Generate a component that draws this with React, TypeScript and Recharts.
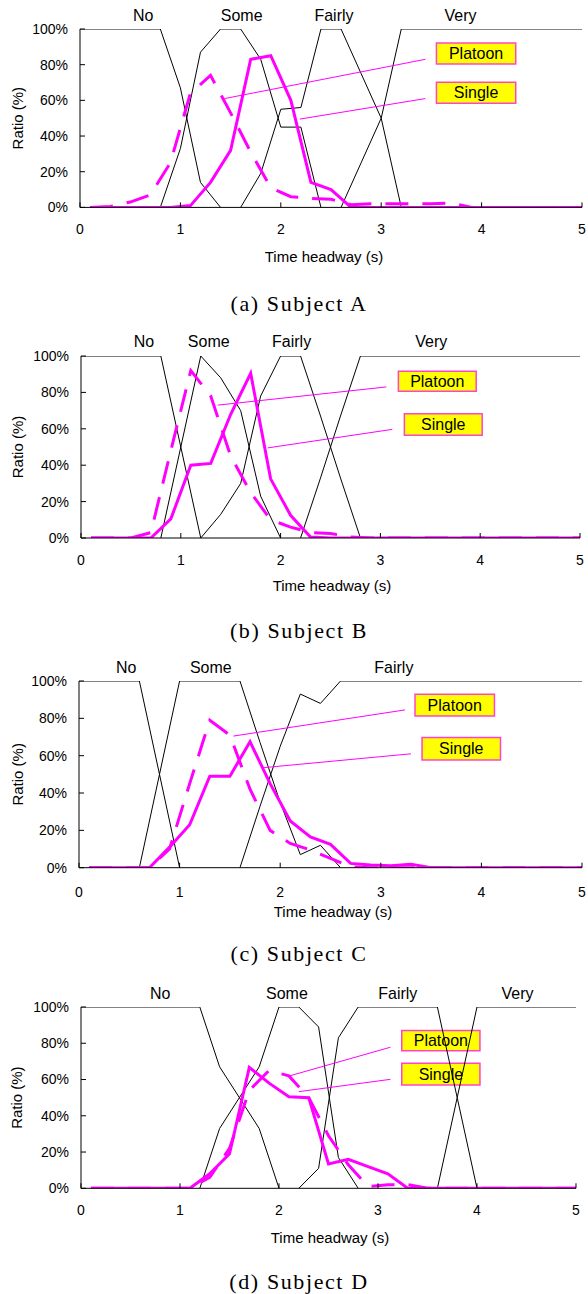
import React from 'react';
import { LineChart, Line, XAxis, YAxis, ReferenceArea, ReferenceLine, Label } from 'recharts';

const SANS = "'Liberation Sans', Arial, Helvetica, sans-serif";
const SERIF = "'Liberation Serif', 'Times New Roman', Times, serif";
const MAGENTA = '#ff00ff';
const BOX_BORDER = '#ff44cc';
const BOX_FILL = '#ffff00';

const X_TICKS = [0, 1, 2, 3, 4, 5];
const Y_TICKS = [0, 20, 40, 60, 80, 100];
const MAG_X = [0.1, 0.3, 0.5, 0.7, 0.9, 1.1, 1.3, 1.5, 1.7, 1.9, 2.1, 2.3, 2.5, 2.7, 2.9, 3.1, 3.3, 3.5, 3.7, 3.9, 4.1, 4.3, 4.5, 4.7, 4.9, 5.0];

// ---------- Subject A ----------
const A_CATS = ['No', 'Some', 'Fairly', 'Very'];
const A_CAT_X = [0.63, 1.61, 2.53, 3.79];
const A_NO_X = [0, 0.8, 1.0, 1.2, 1.4];
const A_NO_Y = [100, 100, 67, 14, 0];
const A_SOME_X = [0.8, 1.0, 1.2, 1.4, 1.6, 1.8, 2.0, 2.2, 2.4];
const A_SOME_Y = [0, 33, 87, 100, 100, 83, 45, 45, 0];
const A_FAIRLY_X = [1.6, 1.8, 2.0, 2.2, 2.4, 2.6, 2.8, 3.0, 3.2];
const A_FAIRLY_Y = [0, 19, 55, 56, 100, 100, 75, 50, 0];
const A_VERY_X = [2.6, 2.8, 3.0, 3.2, 5.0];
const A_VERY_Y = [0, 25, 50, 100, 100];
const A_SINGLE = [0, 0, 0, 0, 0, 1, 14, 32, 83, 85, 60, 14, 10, 0, 0, 0, 0, 0, 0, 0, 0, 0, 0, 0, 0, 0];
const A_PLATOON = [0, 0.5, 3, 7, 25, 64, 74, 53, 31, 11, 6, 5, 4.5, 1.5, 2, 2, 2, 2, 2.5, 0, 0, 0, 0, 0, 0, 0];
const A_PBOX = [3.55, 4.34, 80.4, 92.2];
const A_SBOX = [3.55, 4.34, 58.4, 70.2];
const A_PLEAD = [3.44, 83, 1.44, 61];
const A_SLEAD = [3.44, 61, 2.19, 49.5];

// ---------- Subject B ----------
const B_CATS = ['No', 'Some', 'Fairly', 'Very'];
const B_CAT_X = [0.63, 1.28, 2.11, 3.51];
const B_NO_X = [0, 0.8, 1.0, 1.2];
const B_NO_Y = [100, 100, 50, 0];
const B_SOME_X = [0.8, 1.0, 1.2, 1.4, 1.6, 1.8, 2.0];
const B_SOME_Y = [0, 50, 100, 88, 70, 23, 0];
const B_FAIRLY_X = [1.2, 1.4, 1.6, 1.8, 2.0, 2.2, 2.4, 2.6, 2.8];
const B_FAIRLY_Y = [0, 13, 30, 78, 100, 100, 67, 33, 0];
const B_VERY_X = [2.2, 2.4, 2.6, 2.8, 5.0];
const B_VERY_Y = [0, 33, 67, 100, 100];
const B_SINGLE = [0, 0, 0, 0, 10.5, 40, 41, 68, 90.5, 32.5, 12.5, 0.5, 0, 0, 0, 0, 0, 0, 0, 0, 0, 0, 0, 0, 0, 0];
const B_PLATOON = [0, 0, 0, 3, 48, 92, 78, 45, 25, 10, 6, 3, 2.5, 0.5, 0, 0, 0, 0, 0, 0, 0, 0, 0, 0, 0, 0];
const B_PBOX = [3.18, 3.96, 80.6, 91.6];
const B_SBOX = [3.24, 4.02, 56.4, 68.3];
const B_PLEAD = [3.06, 83, 1.37, 73];
const B_SLEAD = [3.12, 59.7, 1.87, 49.5];

// ---------- Subject C ----------
const C_CATS = ['No', 'Some', 'Fairly'];
const C_CAT_X = [0.47, 1.31, 3.13];
const C_NO_X = [0, 0.6, 0.8, 1.0];
const C_NO_Y = [100, 100, 50, 0];
const C_SOME_X = [0.6, 0.8, 1.0, 1.6, 1.8, 2.0, 2.2, 2.4, 2.6];
const C_SOME_Y = [0, 50, 100, 100, 67, 35, 7, 12, 0];
const C_FAIRLY_X = [1.6, 1.8, 2.0, 2.2, 2.4, 2.6, 5.0];
const C_FAIRLY_Y = [0, 33, 65, 93, 88, 100, 100];
const C_SINGLE = [0, 0, 0, 0, 11, 23, 49, 49, 67.5, 45, 25, 16.5, 12.5, 2.3, 1.5, 1, 1.8, 0, 0, 0, 0, 0, 0, 0, 0, 0];
const C_PLATOON = [0, 0, 0, 0, 10, 45, 79, 71, 42, 20, 13, 9.5, 5, 0.5, 0, 0, 0, 0, 0, 0, 0, 0, 0, 0, 0, 0];
const C_PBOX = [3.34, 4.13, 81.3, 92.9];
const C_SBOX = [3.41, 4.19, 57.7, 69.8];
const C_PLEAD = [3.24, 84.5, 1.535, 70.5];
const C_SLEAD = [3.3, 61, 1.84, 53.6];

// ---------- Subject D ----------
const D_CATS = ['No', 'Some', 'Fairly', 'Very'];
const D_CAT_X = [0.8, 2.08, 3.2, 4.41];
const D_NO_X = [0, 1.2, 1.4, 1.6, 1.8, 2.0];
const D_NO_Y = [100, 100, 67, 50, 33, 0];
const D_SOME_X = [1.2, 1.4, 1.6, 1.8, 2.0, 2.2, 2.4, 2.6, 2.8];
const D_SOME_Y = [0, 33, 50, 67, 100, 100, 89, 17, 0];
const D_FAIRLY_X = [2.2, 2.4, 2.6, 2.8, 3.6, 3.8, 4.0];
const D_FAIRLY_Y = [0, 11, 83, 100, 100, 50, 0];
const D_VERY_X = [3.6, 3.8, 4.0, 5.0];
const D_VERY_Y = [0, 50, 100, 100];
const D_SINGLE = [0, 0, 0, 0, 0, 0, 8, 19, 66.7, 58, 50.5, 50, 13.4, 16, 12, 8, 0, 0, 0, 0, 0, 0, 0, 0, 0, 0];
const D_PLATOON = [0, 0, 0, 0, 0, 0, 6, 22, 54, 65, 62, 50, 29, 13, 1, 2, 2, 0, 0, 0, 0, 0, 0, 0, 0, 0];
const D_PBOX = [3.24, 4.03, 75.9, 87];
const D_SBOX = [3.24, 4.03, 57, 69];
const D_PLEAD = [3.125, 77.8, 2.1, 61.9];
const D_SLEAD = [3.125, 60.1, 2.2, 53.3];

type Pt = { x: number; y: number | null };
const pts = (xs: number[], ys: (number | null)[]): Pt[] => xs.map((x, i) => ({ x, y: ys[i] }));

interface PanelProps {
  top: number;
  plotH: number;
  left: number;
  right: number;
  cats: string[];
  catX: number[];
  catGap: number;
  tickGap: number;
  titleX: number;
  titleDy: number;
  members: Pt[][];
  single: Pt[];
  platoon: Pt[];
  pBox: number[];
  sBox: number[];
  pLead: number[];
  sLead: number[];
}

const TOP_H = 29;
const BOTTOM_H = 72;

function Panel(p: PanelProps) {
  const H = TOP_H + p.plotH + BOTTOM_H;
  const W = 588;
  return (
    <div style={{ position: 'absolute', left: 0, top: p.top - TOP_H, width: W, height: H }}>
      <LineChart width={W} height={H} margin={{ top: TOP_H, right: W - p.right, bottom: 0, left: 0 }}>
        <XAxis
          xAxisId="main"
          dataKey="x"
          type="number"
          domain={[0, 5]}
          allowDataOverflow
          ticks={X_TICKS}
          interval={0}
          height={BOTTOM_H}
          tickSize={-5}
          tickMargin={p.tickGap}
          axisLine={{ stroke: '#000', strokeWidth: 1 }}
          tickLine={{ stroke: '#000', strokeWidth: 1 }}
          tick={{ fill: '#000', fontSize: 14, fontFamily: SANS }}
          label={
            <Label
              content={(lp: any) => {
                const vb = lp.viewBox || {};
                return (
                  <text x={p.titleX} y={(vb.y ?? 0) + p.titleDy} textAnchor="middle" fill="#000" fontSize={15} fontFamily={SANS}>
                    Time headway (s)
                  </text>
                );
              }}
            />
          }
        />
        <YAxis
          yAxisId="main"
          type="number"
          domain={[0, 100]}
          allowDataOverflow
          ticks={Y_TICKS}
          interval={0}
          width={p.left}
          tickSize={-5}
          tickMargin={17}
          tickFormatter={(v: number) => `${v}%`}
          axisLine={{ stroke: '#000', strokeWidth: 1 }}
          tickLine={{ stroke: '#000', strokeWidth: 1 }}
          tick={{ fill: '#000', fontSize: 14, fontFamily: SANS }}
          label={
            <Label
              content={(lp: any) => {
                const vb = lp.viewBox || {};
                const cy = (vb.y ?? 0) + (vb.height ?? 0) / 2;
                return (
                  <text x={17} y={cy} transform={`rotate(-90, 17, ${cy})`} textAnchor="middle" dominantBaseline="central" fill="#000" fontSize={15} fontFamily={SANS}>
                    Ratio (%)
                  </text>
                );
              }}
            />
          }
        />
        {p.catX.map((cx, i) => (
          <ReferenceLine key={'c' + i} xAxisId="main" yAxisId="main" x={cx} stroke="none" strokeOpacity={0} ifOverflow="visible"
            label={{ value: p.cats[i], position: 'top', offset: p.catGap, fill: '#000', fontSize: 16, fontFamily: SANS }} />
        ))}
        <ReferenceArea xAxisId="main" yAxisId="main" x1={p.pBox[0]} x2={p.pBox[1]} y1={p.pBox[2]} y2={p.pBox[3]} fill={BOX_FILL} fillOpacity={1} stroke={BOX_BORDER} strokeWidth={1.5} ifOverflow="visible"
          label={{ value: 'Platoon', position: 'center', fill: '#000', fontSize: 16, fontFamily: SANS }} />
        <ReferenceArea xAxisId="main" yAxisId="main" x1={p.sBox[0]} x2={p.sBox[1]} y1={p.sBox[2]} y2={p.sBox[3]} fill={BOX_FILL} fillOpacity={1} stroke={BOX_BORDER} strokeWidth={1.5} ifOverflow="visible"
          label={{ value: 'Single', position: 'center', fill: '#000', fontSize: 16, fontFamily: SANS }} />
        {p.members.map((m, i) => (
          <Line key={'m' + i} xAxisId="main" yAxisId="main" data={m} dataKey="y" type="linear" stroke="#000" strokeWidth={1}
            dot={false} activeDot={false} isAnimationActive={false} connectNulls={false} />
        ))}
        <Line xAxisId="main" yAxisId="main" data={p.platoon} dataKey="y" type="linear" stroke={MAGENTA} strokeWidth={3}
          strokeDasharray="23 14" dot={false} activeDot={false} isAnimationActive={false} />
        <Line xAxisId="main" yAxisId="main" data={p.single} dataKey="y" type="linear" stroke={MAGENTA} strokeWidth={3}
          dot={false} activeDot={false} isAnimationActive={false} />
        <ReferenceLine xAxisId="main" yAxisId="main" segment={[{ x: p.pLead[0], y: p.pLead[1] }, { x: p.pLead[2], y: p.pLead[3] }]} stroke={MAGENTA} strokeWidth={1} ifOverflow="visible" />
        <ReferenceLine xAxisId="main" yAxisId="main" segment={[{ x: p.sLead[0], y: p.sLead[1] }, { x: p.sLead[2], y: p.sLead[3] }]} stroke={MAGENTA} strokeWidth={1} ifOverflow="visible" />
      </LineChart>
    </div>
  );
}

const CAPTIONS = ['(a) Subject A', '(b) Subject B', '(c) Subject C', '(d) Subject D'];
const CAPTION_BASE = [310.5, 637.5, 960.5, 1289];

export default function App() {
  return (
    <div style={{ position: 'absolute', left: 0, top: 0, width: 588, height: 1294, background: '#fff', overflow: 'hidden' }}>
      <Panel top={29.3} plotH={178.4} left={80} right={582} cats={A_CATS} catX={A_CAT_X} catGap={8} tickGap={22} titleX={324} titleDy={55}
        members={[pts(A_NO_X, A_NO_Y), pts(A_SOME_X, A_SOME_Y), pts(A_FAIRLY_X, A_FAIRLY_Y), pts(A_VERY_X, A_VERY_Y)]}
        single={pts(MAG_X, A_SINGLE)} platoon={pts(MAG_X, A_PLATOON)} pBox={A_PBOX} sBox={A_SBOX} pLead={A_PLEAD} sLead={A_SLEAD} />
      <Panel top={355.7} plotH={182} left={81} right={580} cats={B_CATS} catX={B_CAT_X} catGap={9} tickGap={22} titleX={332} titleDy={53}
        members={[pts(B_NO_X, B_NO_Y), pts(B_SOME_X, B_SOME_Y), pts(B_FAIRLY_X, B_FAIRLY_Y), pts(B_VERY_X, B_VERY_Y)]}
        single={pts(MAG_X, B_SINGLE)} platoon={pts(MAG_X, B_PLATOON)} pBox={B_PBOX} sBox={B_SBOX} pLead={B_PLEAD} sLead={B_SLEAD} />
      <Panel top={681} plotH={186.7} left={79} right={582} cats={C_CATS} catX={C_CAT_X} catGap={8} tickGap={24} titleX={333} titleDy={49}
        members={[pts(C_NO_X, C_NO_Y), pts(C_SOME_X, C_SOME_Y), pts(C_FAIRLY_X, C_FAIRLY_Y)]}
        single={pts(MAG_X, C_SINGLE)} platoon={pts(MAG_X, C_PLATOON)} pBox={C_PBOX} sBox={C_SBOX} pLead={C_PLEAD} sLead={C_SLEAD} />
      <Panel top={1007} plotH={181.3} left={81} right={576} cats={D_CATS} catX={D_CAT_X} catGap={8} tickGap={22} titleX={330} titleDy={55}
        members={[pts(D_NO_X, D_NO_Y), pts(D_SOME_X, D_SOME_Y), pts(D_FAIRLY_X, D_FAIRLY_Y), pts(D_VERY_X, D_VERY_Y)]}
        single={pts(MAG_X, D_SINGLE)} platoon={pts(MAG_X, D_PLATOON)} pBox={D_PBOX} sBox={D_SBOX} pLead={D_PLEAD} sLead={D_SLEAD} />
      <svg width={588} height={1294} style={{ position: 'absolute', left: 0, top: 0, pointerEvents: 'none' }}>
        {CAPTIONS.map((c, i) => (
          <text key={c} x={299} y={CAPTION_BASE[i]} textAnchor="middle" fill="#000" fontSize={22} letterSpacing={1.6} fontFamily={SERIF}>
            {c}
          </text>
        ))}
      </svg>
    </div>
  );
}
